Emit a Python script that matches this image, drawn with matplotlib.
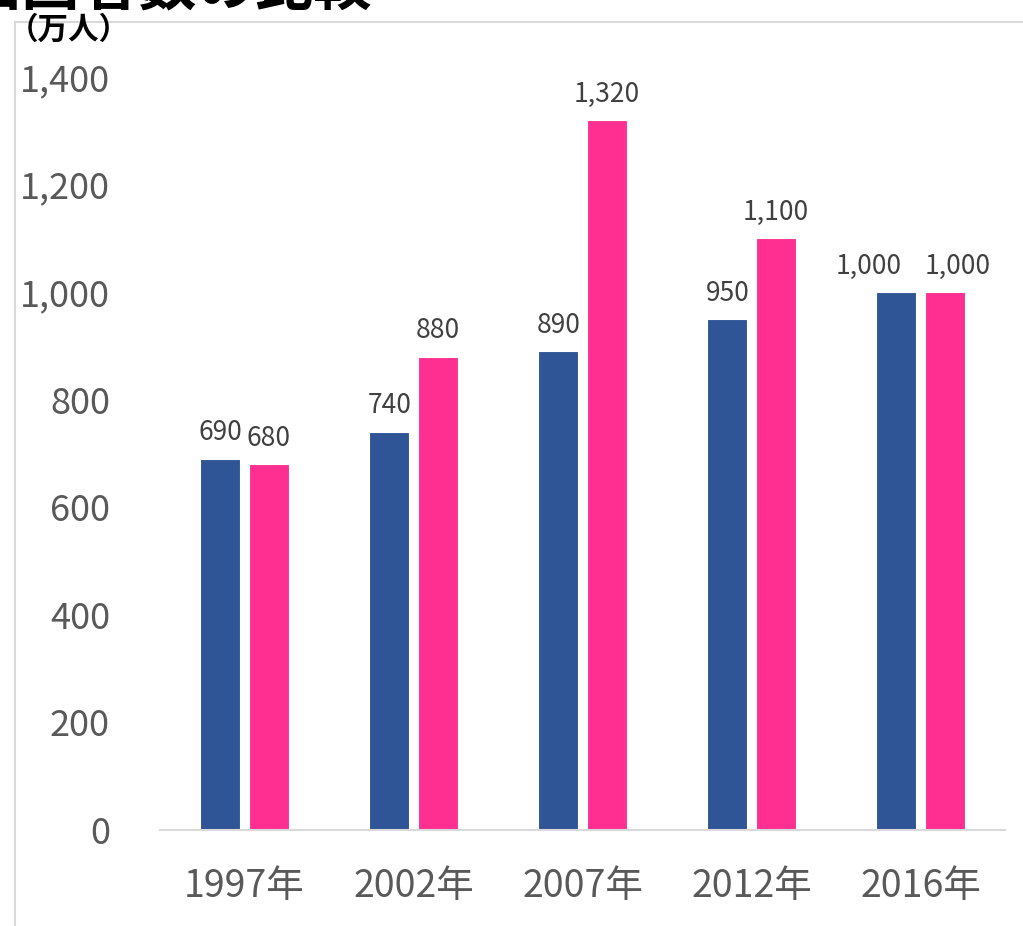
import numpy as np
import matplotlib.pyplot as plt
from matplotlib.lines import Line2D

plt.rcParams['font.family'] = ['Noto Sans CJK JP', 'DejaVu Sans']

years = ['1997年', '2002年', '2007年', '2012年', '2016年']
series_a = [690, 740, 890, 950, 1000]
series_b = [680, 880, 1320, 1100, 1000]
yticks = [0, 200, 400, 600, 800, 1000, 1200, 1400]

BLUE = '#2F5597'
PINK = '#FF2F92'
GRAY = '#595959'

fig = plt.figure(figsize=(10.23, 9.26), dpi=100)
ax = fig.add_axes([0.1564, 0.1037, 0.826, 0.8131])

x = np.arange(len(years))
w = 0.235
off = 0.143
ax.bar(x - off, series_a, w, color=BLUE, edgecolor='white', linewidth=0.8)
ax.bar(x + off, series_b, w, color=PINK, edgecolor='white', linewidth=0.8)

# labels in the last group are pushed apart so they don't collide
shift_a = [0, 0, 0, 0, -20]
shift_b = [0, 0, 0, 0, 9]
for i in range(len(years)):
    ax.annotate(f'{series_a[i]:,}', (x[i] - off, series_a[i]), xytext=(shift_a[i], 9),
                textcoords='offset points', ha='center', va='bottom',
                fontsize=19, color='#404040')
    ax.annotate(f'{series_b[i]:,}', (x[i] + off, series_b[i]), xytext=(shift_b[i], 9),
                textcoords='offset points', ha='center', va='bottom',
                fontsize=19, color='#404040')

ax.set_xlim(-0.5, len(years) - 0.5)
ax.set_ylim(0, 1400)
ax.set_yticks(yticks)
ax.set_yticklabels([f'{v:,}' for v in yticks], fontsize=26, color=GRAY)
ax.set_xticks(x)
ax.set_xticklabels(years, fontsize=27, color=GRAY)
ax.tick_params(axis='y', length=0, pad=36)
ax.tick_params(axis='x', length=0, pad=27)
for s in ['top', 'right', 'left']:
    ax.spines[s].set_visible(False)
ax.spines['bottom'].set_color('#D9D9D9')
ax.spines['bottom'].set_linewidth(1.5)

# chart area border (partially visible)
fig.add_artist(Line2D([15 / 1023, 15 / 1023], [0, 1 - 22 / 926], color='#D9D9D9', lw=1.5))
fig.add_artist(Line2D([15 / 1023, 1], [1 - 22 / 926, 1 - 22 / 926], color='#D9D9D9', lw=1.5))

fig.text(8 / 1023, 1 - 30 / 926, '（万人）', fontsize=22, fontweight='bold',
         color='black', ha='left', va='center')
fig.text(372 / 1023, 1 - 4 / 926, '出国者数の比較', fontsize=42, fontweight='bold',
         color='black', ha='right', va='baseline')

fig.savefig('out.png', dpi=100)
